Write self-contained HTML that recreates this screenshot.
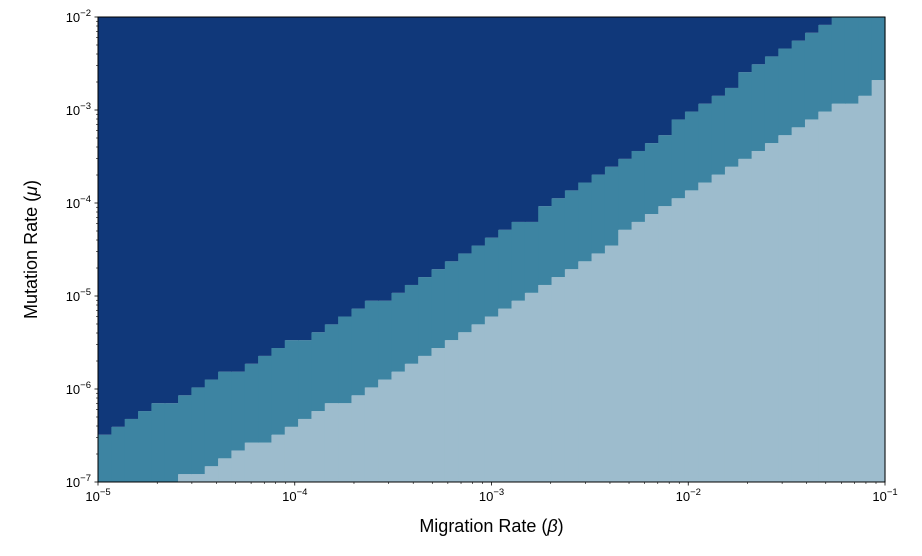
<!DOCTYPE html>
<html><head><meta charset="utf-8"><style>
body{margin:0;background:#fff;}
svg text{font-family:"Liberation Sans","DejaVu Sans",sans-serif;fill:#000;}
</style></head><body>
<svg id="chart" width="922" height="551" xmlns="http://www.w3.org/2000/svg">
<g id="cells"></g>
<g id="axes"></g>
</svg>
<script>
// grid: 59 migration-rate columns (1e-5..1e-1), 59 mutation-rate rows (1e-7..1e-2)
const nCols = 59;
const nRows = 59;
const betaRange = [-5, -1];
const muRange = [-7, -2];
// row index where the dark (top) regime begins, per column
const upperBoundary = [6,7,8,9,10,10,11,12,13,14,14,15,16,17,18,18,19,20,21,22,23,23,24,
 25,26,27,28,29,30,31,32,33,33,35,36,37,38,39,40,41,42,43,44,
 46,47,48,49,50,52,53,54,55,56,57,58,59,59,59,59];
// row index where the light (bottom) regime ends, per column
const lowerBoundary = [0,0,0,0,0,0,1,1,2,3,4,5,5,6,7,8,9,10,10,11,12,13,14,
 15,16,17,18,19,20,21,22,23,24,25,26,27,28,29,30,32,33,34,35,
 36,37,38,39,40,41,42,43,44,45,46,47,48,48,49,51];
const xTickExps = [-5,-4,-3,-2,-1];
const yTickExps = [-7,-6,-5,-4,-3,-2];

const L=98,R=885,T=17,B=482;
const xScale = e => L + (e - betaRange[0])/(betaRange[1]-betaRange[0])*(R-L);
const yScale = e => B - (e - muRange[0])/(muRange[1]-muRange[0])*(B-T);
const colEdge = c => betaRange[0] + c*(betaRange[1]-betaRange[0])/nCols;
const rowEdge = r => muRange[0] + r*(muRange[1]-muRange[0])/nRows;
const NS="http://www.w3.org/2000/svg";
const cells=document.getElementById('cells');
const axes=document.getElementById('axes');
function mk(tag,attrs,parent){const el=document.createElementNS(NS,tag);for(const k in attrs)el.setAttribute(k,attrs[k]);parent.appendChild(el);return el;}
const colors=['#9dbccd','#3d84a2','#10387a'];
const names=['low-regime-cell','mid-regime-cell','high-regime-cell'];
for(let c=0;c<nCols;c++){
  const x0=xScale(colEdge(c)), x1=xScale(colEdge(c+1));
  const bounds=[0,lowerBoundary[c],upperBoundary[c],nRows];
  for(let k=0;k<3;k++){
    if(bounds[k+1]<=bounds[k])continue;
    const y0=yScale(rowEdge(bounds[k+1])), y1=yScale(rowEdge(bounds[k]));
    const el=mk('rect',{x:x0,y:y0,width:x1-x0+0.6,height:y1-y0,fill:colors[k]},cells);
    
    
  }
}
const frame=mk('rect',{x:L,y:T,width:R-L,height:B-T,fill:'none',stroke:'#000','stroke-width':1},axes);


for(let i=0;i<xTickExps.length;i++){
  const e=xTickExps[i],x=xScale(e);
  const t=mk('line',{x1:x,x2:x,y1:B,y2:B+3.5,stroke:'#000','stroke-width':0.8},axes);
  
  
  const lb=mk('text',{x:x,y:B+19,'text-anchor':'middle','font-size':13},axes);
  
  
  lb.innerHTML='10<tspan dy="-6" font-size="9.5">'+(e<0?'\u2212':'')+Math.abs(e)+'</tspan>';
  if(i<xTickExps.length-1){for(let m=2;m<10;m++){const xm=xScale(e+Math.log10(m));
    const mt=mk('line',{x1:xm,x2:xm,y1:B,y2:B+2,stroke:'#000','stroke-width':0.6},axes);
    
    }}
}
for(let i=0;i<yTickExps.length;i++){
  const e=yTickExps[i],y=yScale(e);
  const t=mk('line',{x1:L-3.5,x2:L,y1:y,y2:y,stroke:'#000','stroke-width':0.8},axes);
  
  
  const lb=mk('text',{x:L-7,y:y+5,'text-anchor':'end','font-size':13},axes);
  
  
  lb.innerHTML='10<tspan dy="-6" font-size="9.5">'+(e<0?'\u2212':'')+Math.abs(e)+'</tspan>';
  if(i<yTickExps.length-1){for(let m=2;m<10;m++){const ym=yScale(e+Math.log10(m));
    const mt=mk('line',{x1:L-2,x2:L,y1:ym,y2:ym,stroke:'#000','stroke-width':0.6},axes);
    
    }}
}
const xt=mk('text',{x:(L+R)/2,y:532,'text-anchor':'middle','font-size':18},axes);


xt.innerHTML='Migration Rate (<tspan font-style="italic">\u03b2</tspan>)';
const yt=mk('text',{x:0,y:0,'text-anchor':'middle','font-size':18,transform:'translate(37,'+((T+B)/2)+') rotate(-90)'},axes);


yt.innerHTML='Mutation Rate (<tspan font-style="italic">\u03bc</tspan>)';
</script>
</body></html>
